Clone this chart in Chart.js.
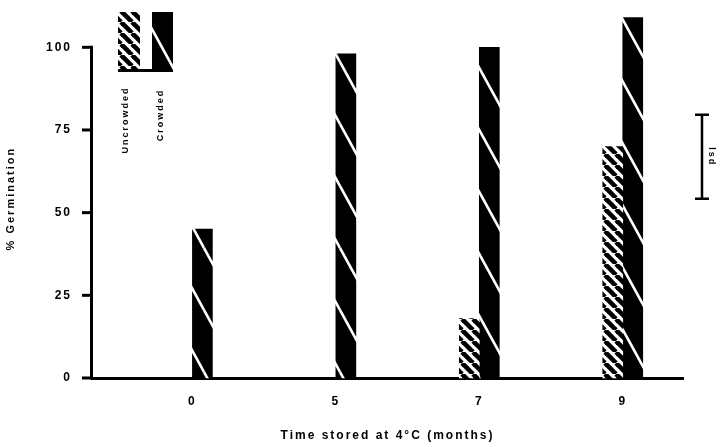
<!DOCTYPE html>
<html>
<head>
<meta charset="utf-8">
<script src="https://cdn.jsdelivr.net/npm/chart.js@4/dist/chart.umd.min.js"></script>
<style>
  body { margin: 0; background: #fff; }
  #wrap { width: 726px; height: 447px; }
</style>
</head>
<body>
<div id="wrap"><canvas id="c"></canvas></div>
<script>
// months stored, plotted at group positions 1..4
const months = ["0", "5", "7", "9"];
const positions = [1, 2, 3, 4];
const uncrowded = [0, 0, 18, 70];
const crowded = [45, 98, 100, 109];
const yTicks = [0, 25, 50, 75, 100];
const lsdFrom = 54.2, lsdTo = 79.6;

// black stripes on white
function stripePattern() {
  const S = 11;
  const c = document.createElement("canvas");
  c.width = S; c.height = S;
  const g = c.getContext("2d");
  g.fillStyle = "#fff"; g.fillRect(0, 0, S, S);
  g.strokeStyle = "#000"; g.lineWidth = 4.6;
  [-S, 0, S].forEach((o) => {
    g.beginPath(); g.moveTo(o, 0); g.lineTo(o + S, S); g.stroke();
  });
  return g.createPattern(c, "repeat");
}

// black with sparse white diagonal lines
function solidPattern() {
  const W = 34, H = 62;
  const c = document.createElement("canvas");
  c.width = W; c.height = H;
  const g = c.getContext("2d");
  g.fillStyle = "#000"; g.fillRect(0, 0, W, H);
  g.strokeStyle = "#fff"; g.lineWidth = 2.6;
  [[-W, 0], [0, 0], [W, 0], [0, -H], [0, H]].forEach(([ox, oy]) => {
    g.beginPath(); g.moveTo(ox, oy); g.lineTo(ox + W, oy + H); g.stroke();
  });
  return g.createPattern(c, "repeat");
}

const pStripe = stripePattern();
const pSolid = solidPattern();

const extras = {
  id: "extras",
  beforeDraw(chart) {
    chart.ctx.letterSpacing = "2px";
  },
  afterDraw(chart) {
    const ctx = chart.ctx;
    const y = chart.scales.y;
    const left = 92;
    ctx.save();
    ctx.strokeStyle = "#000";
    ctx.fillStyle = "#000";
    // y axis line up to 100, with ticks
    const y0 = y.getPixelForValue(0), y100 = y.getPixelForValue(100);
    ctx.fillRect(left - 2, y100 - 1.5, 3, y0 - y100 + 3);
    yTicks.forEach((v) => {
      ctx.fillRect(left - 10, y.getPixelForValue(v) - 1.5, 10, 3);
    });
    // lsd bar
    const lx = 702, t = y.getPixelForValue(lsdTo), b = y.getPixelForValue(lsdFrom);
    ctx.lineWidth = 2.5;
    ctx.beginPath();
    ctx.moveTo(lx, t); ctx.lineTo(lx, b);
    ctx.moveTo(lx - 7, t); ctx.lineTo(lx + 7, t);
    ctx.moveTo(lx - 7, b); ctx.lineTo(lx + 7, b);
    ctx.stroke();
    ctx.font = "bold 9px 'Liberation Sans'";
    ctx.letterSpacing = "2px";
    ctx.translate(711, (t + b) / 2);
    ctx.rotate(Math.PI / 2);
    ctx.textAlign = "center"; ctx.textBaseline = "middle";
    ctx.fillText("lsd", 0, 0);
    ctx.restore();

    // legend swatches
    ctx.save();
    ctx.fillStyle = pStripe; ctx.fillRect(118, 12, 22, 58);
    ctx.fillStyle = pSolid; ctx.fillRect(152, 12, 21, 60);
    ctx.fillStyle = "#000"; ctx.fillRect(118, 69, 36, 3);
    ctx.font = "bold 9px 'Liberation Sans'";
    ctx.letterSpacing = "2px";
    ctx.textAlign = "center"; ctx.textBaseline = "middle";
    [["Uncrowded", 126, 120], ["Crowded", 161, 115]].forEach(([s, px, py]) => {
      ctx.save();
      ctx.translate(px, py); ctx.rotate(-Math.PI / 2);
      ctx.fillText(s, 0, 0);
      ctx.restore();
    });
    ctx.restore();
  }
};

new Chart(document.getElementById("c"), {
  type: "bar",
  data: {
    datasets: [
      {
        label: "Uncrowded",
        data: positions.map((p, i) => ({ x: p, y: uncrowded[i] || null })),
        backgroundColor: pStripe,
        borderWidth: 0,
        barThickness: 20,
        clip: false,
      },
      {
        label: "Crowded",
        data: positions.map((p, i) => ({ x: p, y: crowded[i] })),
        backgroundColor: pSolid,
        borderWidth: 0,
        barThickness: 20,
        clip: false,
      },
    ],
  },
  options: {
    responsive: true,
    maintainAspectRatio: false,
    animation: false,
    layout: { padding: { top: 0, right: 43, left: 0, bottom: 0 } },
    plugins: { legend: { display: false }, tooltip: { enabled: false } },
    scales: {
      x: {
        type: "linear",
        min: 0.3,
        max: 4.42,
        offset: false,
        afterBuildTicks: (s) => { s.ticks = positions.map((v) => ({ value: v })); },
        afterFit: (s) => { s.height = 69; },
        border: { color: "#000", width: 3 },
        grid: { display: false },
        ticks: {
          color: "#000",
          font: { family: "Liberation Sans", weight: "bold", size: 12 },
          padding: 8,
          callback: (v) => months[positions.indexOf(v)],
        },
        title: {
          display: true,
          text: "Time stored at 4°C (months)",
          color: "#000",
          font: { family: "Liberation Sans", weight: "bold", size: 12 },
          padding: { top: 14 },
        },
      },
      y: {
        min: 0,
        max: 108.5,
        clip: false,
        afterBuildTicks: (s) => { s.ticks = yTicks.map((v) => ({ value: v })); },
        afterFit: (s) => { s.width = 92; },
        border: { display: false },
        grid: { display: false },
        ticks: {
          color: "#000",
          font: { family: "Liberation Sans", weight: "bold", size: 12 },
          padding: 12,
        },
        title: {
          display: true,
          text: "% Germination",
          color: "#000",
          font: { family: "Liberation Sans", weight: "bold", size: 11 },
          padding: { bottom: 20 },
        },
      },
    },
  },
  plugins: [extras],
});
</script>
</body>
</html>
